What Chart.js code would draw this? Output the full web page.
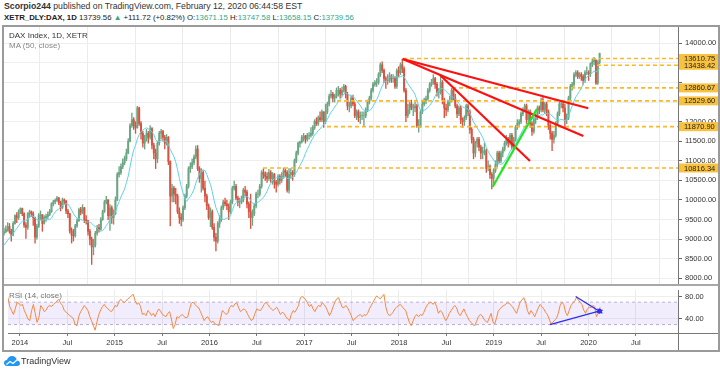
<!DOCTYPE html>
<html><head><meta charset="utf-8">
<script src="https://cdn.jsdelivr.net/npm/chart.js@4.4.1/dist/chart.umd.min.js"></script>
<style>
body{margin:0;width:720px;height:373px;background:#fff;position:relative;overflow:hidden;font-family:"Liberation Sans",Arial,sans-serif;color:#333}
.abs{position:absolute;white-space:nowrap}
.g{color:#2fa88c}
canvas{position:absolute}
</style></head><body>
<div class="abs" style="left:4px;top:1px;font-size:8.7px;color:#333"><b>Scorpio244</b> published on TradingView.com, February 12, 2020 06:44:58 EST</div>
<div class="abs" style="left:4px;top:13px;font-size:7.8px;color:#222"><b>XETR_DLY:DAX, 1D</b> 13739.56 <span class="g">▲</span> +111.72 (+0.82%) O:<span class="g">13671.15</span> H:<span class="g">13747.58</span> L:<span class="g">13658.15</span> C:<span class="g">13739.56</span></div>
<div class="abs" style="left:2px;top:25px;width:718px;height:327px;box-sizing:border-box;border:2px solid #9a9a9a"></div>
<canvas id="main" width="714" height="257" style="left:4px;top:27px"></canvas>
<div class="abs" style="left:4px;top:284px;width:714px;height:2px;background:#a8a8a8"></div>
<canvas id="rsi" width="714" height="64" style="left:4px;top:286px"></canvas>
<div class="abs" style="left:678px;top:333px;width:40px;height:1px;background:#777"></div>
<div class="abs" style="left:678px;top:333px;width:1px;height:17px;background:#777"></div>
<div class="abs" style="left:9px;top:31px;font-size:8px;color:#333">DAX Index, 1D, XETR</div>
<div class="abs" style="left:9px;top:41px;font-size:8px;color:#888">MA (50, close)</div>
<div class="abs" style="left:9px;top:291px;font-size:8px;color:#777">RSI (14, close)</div>
<svg class="abs" style="left:4px;top:356px" width="16" height="11" viewBox="0 0 16 11">
<path d="M3 10 C1 10 0 8.5 0 7 C0 5.3 1.3 4 3 4 C3.5 1.7 5.5 0 8 0 C10.6 0 12.6 1.9 12.9 4.3 C14.7 4.6 16 6 16 7.5 C16 9 14.8 10 13.2 10 Z" fill="#2196f3"/>
<polyline points="2.5,8.5 6,5.5 9,7.5 13.5,3.5" fill="none" stroke="#fff" stroke-width="1.3"/>
</svg>
<div class="abs" style="left:21px;top:356px;font-size:9px;color:#333">TradingView</div>
<script>
// ---- data (weekly candles) ----
const firstWeek = 2013.874;          // mid-Nov 2013, as fractional year
const weekStep = 7 / 365.25;
const firstOpen = 9150;
const closes = [
9190,9250,9320,9200,9100,9400,9600,9550,9700,9780,
9650,9360,9300,9650,9700,9650,9550,9050,9330,9600,
9620,9400,9550,9580,9630,9700,9900,9950,9990,10050,
9930,9810,10000,9970,9720,9650,9210,9100,9090,9340,
9470,9750,9690,9800,9500,9470,9200,9000,8800,8850,
9150,9290,9250,9500,9700,9950,10000,9600,9800,9550,
9650,10000,10650,10700,10850,10950,11050,11200,11500,11900,
12050,11900,11850,12350,11950,11700,11450,11550,11700,11600,
11820,11400,11200,11050,11450,11700,11750,11600,11450,11600,
10980,10100,10300,10150,10100,9700,9550,9500,9800,10100,
10350,10800,10850,10950,11100,11300,10800,10550,10700,10300,
10100,9850,9550,9700,9300,9050,8950,9400,9500,9800,
9950,9900,9850,9700,9950,10300,10350,10050,9950,9950,
10000,10250,10200,9900,9700,9550,9650,9850,10150,10150,
10350,10700,10650,10600,10550,10700,10550,10650,10450,10400,
10600,10500,10600,10750,10700,10250,10650,10700,10650,11000,
11200,11450,11480,11600,11630,11550,11650,11650,11700,11850,
12000,11950,12100,12050,12250,12000,12250,12450,12650,12700,
12600,12650,12800,12800,12700,12800,12900,12700,12400,12400,
12600,12450,12150,12250,12100,12150,12150,12150,12300,12500,
12600,12800,12950,13000,13000,13200,13450,13300,13100,13050,
13050,13150,13100,13100,12900,13300,13250,13450,13350,12800,
12150,12300,12450,12350,12350,12400,11900,11900,12250,12450,
12550,12580,12800,12950,13000,13100,12950,12750,12750,13000,
12550,12350,12300,12500,12550,12800,12600,12400,12200,12350,
12050,12000,12100,12400,12250,11800,11550,11200,11450,11550,
11350,11200,11250,11250,10800,10850,10650,10550,10750,10900,
11200,11000,11200,11300,11450,11550,11450,11650,11350,11550,
11850,11950,12000,12200,12300,12400,12050,12250,11950,11750,
12050,12100,12350,12300,12550,12300,12450,12250,11900,11700,
11550,11650,11950,12200,12450,12450,12350,12050,12100,12600,
12900,12950,13200,13250,13150,13200,13150,13050,13250,13250,
13220,13480,13530,13570,12980,13510,13740];
const highs = [
9280,9340,9420,9400,9250,9450,9620,9680,9750,9800,
9790,9680,9420,9680,9740,9720,9700,9560,9380,9650,
9720,9630,9600,9640,9700,9760,9930,9990,10030,10090,
10070,9970,10050,10030,9990,9760,9660,9290,9250,9380,
9520,9790,9810,9880,9810,9600,9480,9250,9050,9000,
9200,9350,9380,9550,9740,9990,10090,10010,9880,9850,
9750,10080,10700,10850,10920,11050,11120,11300,11570,11950,
12220,12100,12000,12390,12370,12000,11750,11650,11800,11750,
11900,11850,11450,11300,11500,11750,11800,11780,11650,11670,
11620,11000,10400,10350,10300,10150,9800,9650,9850,10150,
10400,10850,10950,11050,11150,11380,11390,10850,10800,10750,
10480,10150,9900,9800,9750,9400,9150,9450,9600,9850,
10000,10050,10000,9900,10000,10350,10480,10400,10100,10050,
10100,10300,10350,10250,9950,10150,9750,9900,10200,10250,
10400,10750,10800,10720,10700,10780,10750,10700,10680,10500,
10650,10650,10700,10820,10800,10750,10800,10800,10750,11050,
11250,11480,11500,11650,11700,11650,11700,11720,11850,11900,
12050,12100,12150,12250,12300,12250,12450,12500,12700,12800,
12750,12700,12860,12900,12850,12880,12950,12930,12750,12500,
12650,12680,12500,12300,12300,12250,12250,12250,12350,12550,
12650,12850,13000,13050,13100,13250,13500,13525,13350,13150,
13200,13250,13200,13200,13150,13350,13400,13500,13597,13400,
12850,12450,12500,12550,12450,12500,12450,12050,12300,12550,
12600,12650,12850,13000,13080,13200,13130,13000,12850,13170,
13050,12600,12450,12550,12650,12850,12850,12700,12450,12400,
12400,12100,12150,12450,12450,12300,11850,11600,11500,11600,
11600,11400,11350,11450,11300,11000,10900,10700,10800,11000,
11250,11250,11250,11350,11500,11650,11600,11700,11700,11600,
11900,12050,12050,12250,12350,12450,12450,12300,12300,12000,
12100,12200,12400,12400,12600,12630,12500,12500,12300,11950,
11750,11750,12000,12250,12500,12500,12500,12450,12200,12650,
12950,13000,13250,13300,13300,13250,13250,13200,13300,13400,
13300,13500,13600,13640,13580,13560,13750];
const lows = [
9100,9160,9200,9150,8950,9080,9380,9420,9500,9650,
9600,9300,9020,9250,9550,9580,9350,8900,9000,9300,
9500,9200,9380,9450,9520,9600,9680,9850,9900,9960,
9880,9720,9780,9890,9650,9550,9150,8900,8950,9050,
9300,9450,9620,9650,9420,9380,9100,8850,8355,8600,
8800,9100,9180,9230,9480,9680,9900,9500,9220,9400,
9380,9620,9980,10580,10650,10800,10900,11000,11180,11480,
11850,11800,11700,11830,11900,11550,11350,11300,11500,11450,
11550,11300,11050,10800,10950,11400,11550,11500,11300,11400,
10900,9338,9950,9950,9900,9650,9400,9340,9450,9750,
10050,10300,10700,10800,10900,11050,10750,10450,10200,10250,
9950,9750,9500,9320,9250,8950,8700,8900,9300,9450,
9750,9850,9750,9500,9650,9900,10250,10000,9850,9800,
9900,9950,10100,9800,9550,9270,9350,9600,9800,10050,
10100,10300,10550,10500,10450,10500,10450,10400,10300,10200,
10350,10400,10450,10550,10600,10200,10175,10550,10500,10600,
10950,11150,11350,11450,11500,11450,11500,11550,11600,11650,
11800,11900,11900,12000,12000,11850,11950,12200,12400,12600,
12500,12500,12600,12650,12600,12650,12750,12600,12300,12250,
12350,12400,12100,12050,12000,11950,12050,11870,12100,12250,
12450,12550,12750,12900,12900,12950,13150,13250,13000,12850,
12950,13000,13000,13000,12850,12850,13150,13200,13250,12750,
12000,12100,12200,12300,12150,12250,11850,11730,11850,12200,
12400,12450,12550,12750,12900,12950,12850,12650,12600,12700,
12450,12100,12150,12250,12400,12500,12550,12350,12100,12150,
11950,11850,11900,12050,12150,11700,11450,11050,11100,11350,
11250,11050,11050,11150,10700,10750,10550,10280,10400,10700,
10850,10950,10950,11100,11250,11400,11350,11400,11300,11300,
11500,11800,11900,11950,12150,12250,11950,12000,11850,11650,
11700,11950,12050,12200,12250,12250,12200,12150,11800,11550,
11260,11450,11600,11900,12150,12350,12250,11850,11950,12050,
12550,12800,12900,13150,13100,13100,13050,12950,13000,13200,
13050,13150,13400,13450,12950,12950,13480];
// closes of the weeks just before the visible window (MA warm-up)
const priorCloses = [8650,8680,8660,8620,8740,8870,9010,9000,9080];
const maLength = 10;   // 50 trading days = 10 weeks
const rsiValues = [
78,62,55,48,58,70,68,64,66,55,
48,40,37,55,66,50,34,42,64,60,
53,56,62,64,62,66,69,72,75,68,
64,55,52,49,46,44,40,30,28,45,
53,58,64,60,55,45,37,28,20,35,
48,56,62,66,61,58,55,53,58,64,
62,70,75,72,69,72,76,78,82,84,
72,66,69,62,48,50,46,55,52,46,
50,44,52,58,54,48,46,44,50,53,
40,23,30,44,42,46,48,44,42,44,
58,68,70,66,62,60,53,45,37,42,
44,38,34,36,31,30,28,40,55,52,
48,50,60,64,62,67,69,60,53,56,
58,55,48,42,37,40,50,58,56,55,
60,66,70,66,61,58,55,58,61,55,
48,52,50,44,40,37,48,55,52,58,
64,78,80,78,74,68,62,66,58,53,
60,64,62,69,66,61,54,46,52,62,
70,76,78,70,61,60,64,60,53,46,
37,40,44,46,48,44,48,46,50,58,
64,70,76,81,78,76,80,84,62,50,
46,48,52,58,61,64,66,62,58,55,
44,34,28,36,44,48,44,48,46,52,
60,66,68,70,66,70,62,50,55,52,
44,37,42,50,55,60,64,60,50,46,
52,58,50,44,37,34,30,28,36,44,
48,46,40,36,34,42,50,35,31,42,
55,58,62,64,66,69,68,64,61,55,
50,60,70,74,78,70,55,48,55,50,
44,52,60,66,62,58,52,48,40,31,
34,38,41,50,64,70,66,52,46,55,
64,68,72,78,74,70,66,56,50,58,
61,60,64,62,44,50,61];
const levels = [13610.75, 13438.42, 12860.67, 12529.60, 11870.90, 10816.34];
const levelStarts = [2018.06, 2020.094, 2018.574, 2017.367, 2017.262, 2016.591];
const redLines = [
  [[2018.0565, 13598], [2020.0033, 12340]],
  [[2018.0565, 13598], [2019.951, 11633]],
  [[2018.4477, 13190], [2019.3918, 10995]]];
const greenLine = [[2019.0005, 10338], [2019.462, 12315]];
const rsiArrows = [
  [[2019.864, 80], [2020.119, 53.3]],
  [[2019.594, 30], [2020.119, 54.5]]];
const arrowAngles = [123, 74];
const timeTicks = [2014,2014.5,2015,2015.5,2016,2016.5,2017,2017.5,2018,2018.5,2019,2019.5,2020,2020.5];
const timeLabels = ['2014','Jul','2015','Jul','2016','Jul','2017','Jul','2018','Jul','2019','Jul','2020','Jul'];
const priceGrid = [8000,8500,9000,9500,10000,10500,11000,11500,12000,12500,13000,13500,14000];
const priceLabels = [8000,8500,9000,9500,10000,10500,11000,11500,12000,14000];
const rsiTicks = [40, 80];
const rsiBand = [30, 70];
const xMin = 2013.8741, xMax = 2020.9443;
const yMin = 7855, yMax = 14415;
const rsiMin = 15, rsiMax = 91.67;

// ---- build ----
const FONT = '"Liberation Sans", Arial, sans-serif';
const times = closes.map((_, i) => firstWeek + i * weekStep);
const opens = closes.map((c, i) => i === 0 ? firstOpen : closes[i - 1]);
const upColor = '#6ba583', downColor = '#d75442';
const candleColors = closes.map((c, i) => c >= opens[i] ? upColor : downColor);
const wickData = times.map((t, i) => ({x: t, y: [lows[i], highs[i]]}));
const bodyData = times.map((t, i) => ({x: t, y: [opens[i], closes[i]]}));
const allCloses = priorCloses.concat(closes);
const maData = times.map((t, i) => {
  let s = 0;
  for (let k = 0; k < maLength; k++) s += allCloses[i + priorCloses.length - k];
  return {x: t, y: s / maLength};
});
const rsiData = times.map((t, i) => ({x: t, y: rsiValues[i]}));
const pts = seg => seg.map(p => ({x: p[0], y: p[1]}));

const levelTags = {
  id: 'levelTags',
  afterDraw(chart) {
    const ctx = chart.ctx, ys = chart.scales.y;
    ctx.save();
    ctx.font = '7.5px ' + FONT;
    ctx.textBaseline = 'middle';
    levels.forEach(v => {
      const y = ys.getPixelForValue(v);
      ctx.fillStyle = '#f8c23f';
      ctx.fillRect(ys.left + 1, y - 4.5, ys.width - 1, 9);
      ctx.fillStyle = '#222';
      ctx.fillText(v.toFixed(2), ys.left + 6, y + 0.5);
    });
    ctx.restore();
  }
};

const noPadH = s => { s.paddingLeft = 0; s.paddingRight = 0; };
const noPadV = s => { s.paddingTop = 0; s.paddingBottom = 0; };
const xScaleBase = {
  type: 'linear', min: xMin, max: xMax, offset: false,
  afterBuildTicks: s => { s.ticks = timeTicks.map(v => ({value: v})); }
};

new Chart(document.getElementById('main'), {
  type: 'bar',
  data: {datasets: [
    {type: 'line', data: pts(greenLine), borderColor: '#1ee61e', borderWidth: 2.2, pointRadius: 0, order: 0},
    ...redLines.map(seg => ({type: 'line', data: pts(seg), borderColor: '#ff1010', borderWidth: 2.2, pointRadius: 0, order: 1})),
    ...levels.map((v, k) => ({type: 'line', data: [{x: levelStarts[k], y: v}, {x: xMax, y: v}],
      borderColor: '#f9b824', borderWidth: 1.6, borderDash: [4, 3], pointRadius: 0, order: 2})),
    {type: 'line', data: maData, borderColor: '#5dd3e8', borderWidth: 1, pointRadius: 0, order: 3},
    {type: 'bar', data: bodyData, backgroundColor: candleColors, barThickness: 1.3, grouped: false, order: 4},
    {type: 'bar', data: wickData, backgroundColor: candleColors, barThickness: 0.7, grouped: false, order: 5}
  ]},
  options: {
    responsive: false, animation: false, devicePixelRatio: 1,
    layout: {padding: 0},
    plugins: {legend: {display: false}, tooltip: {enabled: false}},
    scales: {
      x: Object.assign({}, xScaleBase, {
        ticks: {display: false},
        grid: {color: '#ebebeb', drawTicks: false},
        border: {display: false},
        afterFit: s => { s.height = 0; noPadH(s); }
      }),
      y: {
        position: 'right', min: yMin, max: yMax,
        afterBuildTicks: s => { s.ticks = priceGrid.map(v => ({value: v})); },
        ticks: {callback: v => priceLabels.includes(v) ? v.toFixed(2) : '', font: {size: 7.5, family: FONT},
          color: '#333', padding: 3, autoSkip: false},
        grid: {color: '#eeeeee', tickLength: 4, tickColor: '#666'},
        border: {color: '#777'},
        afterFit: s => { s.width = 40; noPadV(s); }
      }
    }
  },
  plugins: [levelTags]
});

new Chart(document.getElementById('rsi'), {
  type: 'line',
  data: {datasets: [
    ...rsiArrows.map((seg, k) => ({data: pts(seg), borderColor: '#2d2df5', borderWidth: 1.3,
      pointRadius: [0, 3.5], pointStyle: 'triangle', pointRotation: [0, arrowAngles[k]],
      pointBackgroundColor: '#2d2df5', pointBorderColor: '#2d2df5', pointBorderWidth: 0, order: 0})),
    {data: rsiData, borderColor: '#f7883d', borderWidth: 1, pointRadius: 0, order: 1},
    {data: [{x: xMin, y: rsiBand[1]}, {x: xMax, y: rsiBand[1]}], borderColor: '#bcaed6', borderDash: [3, 3],
      borderWidth: 1, pointRadius: 0, fill: '+1', backgroundColor: 'rgba(150,110,240,0.12)', order: 2},
    {data: [{x: xMin, y: rsiBand[0]}, {x: xMax, y: rsiBand[0]}], borderColor: '#bcaed6', borderDash: [3, 3],
      borderWidth: 1, pointRadius: 0, fill: false, order: 3}
  ]},
  options: {
    responsive: false, animation: false, devicePixelRatio: 1,
    layout: {padding: {top: 1}},
    plugins: {legend: {display: false}, tooltip: {enabled: false}},
    scales: {
      x: Object.assign({}, xScaleBase, {
        ticks: {callback: (v, i) => timeLabels[i], font: {size: 7.5, family: FONT}, color: '#333',
          padding: 2, maxRotation: 0, autoSkip: false},
        grid: {color: '#ebebeb', tickLength: 3, tickColor: '#777'},
        border: {color: '#777'},
        afterFit: s => { s.height = 17; noPadH(s); }
      }),
      y: {
        position: 'right', min: rsiMin, max: rsiMax,
        afterBuildTicks: s => { s.ticks = rsiTicks.map(v => ({value: v})); },
        ticks: {callback: v => v.toFixed(2), font: {size: 7.5, family: FONT}, color: '#333', padding: 3},
        grid: {color: '#eeeeee', tickLength: 4, tickColor: '#666'},
        border: {color: '#777'},
        afterFit: s => { s.width = 40; noPadV(s); }
      }
    }
  }
});
</script>
</body></html>
